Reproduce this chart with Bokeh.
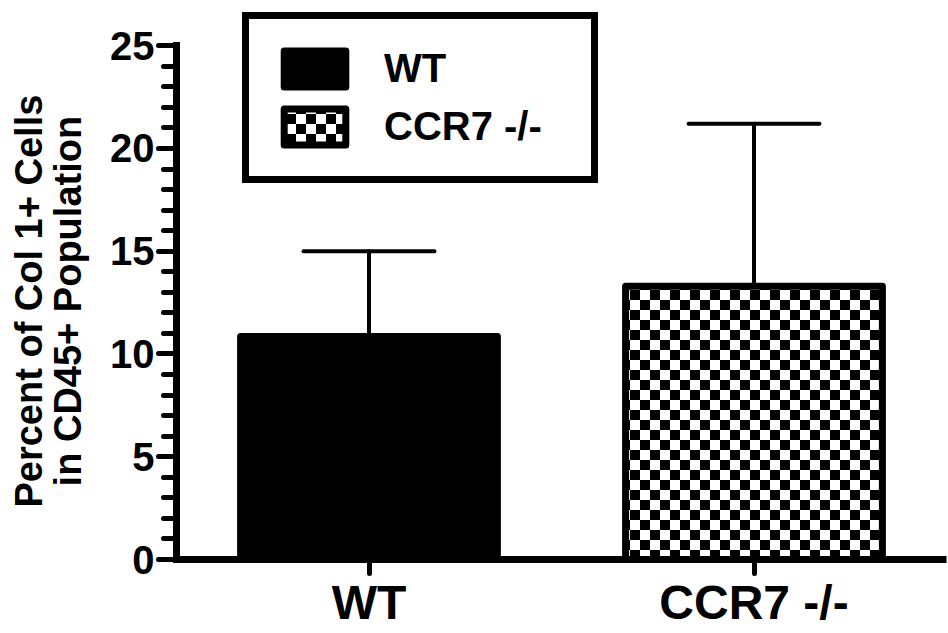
from bokeh.plotting import figure
from bokeh.models import (ColumnDataSource, Range1d, FixedTicker, SingleIntervalTicker,
                          CanvasTexture, Legend, LegendItem, CDSView, IndexFilter)
from bokeh.embed import file_html
from bokeh.resources import INLINE

# ---- data ----
groups = ["WT", "CCR7 -/-"]
means = [10.85, 13.3]
sems = [4.15, 7.9]
y_ticks = [0, 5, 10, 15, 20, 25]
y_label_lines = ["Percent of Col 1+ Cells", "in CD45+ Population"]

xs = [i + 0.5 for i in range(len(groups))]
uppers = [m + s for m, s in zip(means, sems)]
CAP = 0.17

src = ColumnDataSource(dict(x=xs, mean=means, upper=uppers, label=groups,
                            cl=[x - CAP for x in xs], cr=[x + CAP for x in xs]))

FONT = "Liberation Sans"

p = figure(width=948, height=633, output_backend="svg", toolbar_location=None,
           x_range=Range1d(0, 2), y_range=Range1d(0, 27.2),
           min_border_left=176, min_border_right=2, min_border_top=0, min_border_bottom=74)
p.outline_line_color = None
p.xgrid.visible = False
p.ygrid.visible = False

checker = CanvasTexture(code="""
var c = ctx.canvas;
c.width = 20; c.height = 20;
ctx.fillStyle = '#ffffff';
ctx.fillRect(0, 0, 20, 20);
ctx.fillStyle = '#000000';
ctx.fillRect(0, 0, 10, 10);
ctx.fillRect(10, 10, 10, 10);
""", repetition="repeat")

bar_kw = dict(x="x", top="mean", bottom=0, width=0.667, source=src,
              line_color="black", line_width=7, line_join="round")
wt = p.vbar(view=CDSView(filter=IndexFilter([0])), fill_color="black", **bar_kw)
ko = p.vbar(view=CDSView(filter=IndexFilter([1])), fill_color="white",
            hatch_pattern=dict(value="checker"), hatch_extra={"checker": checker},
            hatch_color="black", hatch_scale=20, **bar_kw)

p.segment(x0="x", y0="mean", x1="x", y1="upper", source=src,
          line_color="black", line_width=4, line_cap="round")
p.segment(x0="cl", y0="upper", x1="cr", y1="upper", source=src,
          line_color="black", line_width=4, line_cap="round")

# ---- axes ----
xa = p.xaxis[0]
xa.ticker = FixedTicker(ticks=xs, minor_ticks=[])
xa.major_label_overrides = {x: g for x, g in zip(xs, groups)}
xa.axis_line_width = 7
xa.major_tick_line_width = 5
xa.major_tick_in = 0
xa.major_tick_out = 14
xa.major_tick_line_cap = "round"
xa.major_label_standoff = 2
xa.major_label_text_font = FONT
xa.major_label_text_font_style = "bold"
xa.major_label_text_font_size = "48px"
xa.major_label_text_color = "black"

ya = p.yaxis[0]
ya.ticker = SingleIntervalTicker(interval=5, num_minor_ticks=5)
ya.bounds = (y_ticks[0], y_ticks[-1])
ya.axis_line_width = 7
ya.axis_line_cap = "square"
ya.major_tick_line_width = 5
ya.minor_tick_line_width = 5
ya.major_tick_line_cap = "round"
ya.minor_tick_line_cap = "round"
ya.major_tick_in = 0
ya.major_tick_out = 18
ya.minor_tick_in = 0
ya.minor_tick_out = 13
ya.major_label_standoff = 4
ya.major_label_text_font = FONT
ya.major_label_text_font_style = "bold"
ya.major_label_text_font_size = "40px"
ya.major_label_text_color = "black"
# trailing no-break spaces centre the label on the 0-25 axis line rather than the frame
ya.axis_label = "\n".join(line + "\u00a0" * 4 for line in y_label_lines)
ya.axis_label_text_font = FONT
ya.axis_label_text_font_style = "bold"
ya.axis_label_text_font_size = "38px"
ya.axis_label_text_line_height = 0.92
ya.axis_label_text_color = "black"
ya.axis_label_standoff = 18

# ---- legend ----
legend = Legend(items=[LegendItem(label=groups[0], renderers=[wt]),
                       LegendItem(label=groups[1], renderers=[ko])],
                location=(66, 376))
legend.border_line_color = "black"
legend.border_line_width = 7
legend.border_line_alpha = 1
legend.background_fill_alpha = 1
legend.padding = 27
legend.spacing = 13
legend.margin = 0
legend.glyph_width = 77
legend.glyph_height = 45
legend.label_standoff = 31
legend.label_width = 180
legend.label_text_font = FONT
legend.label_text_font_style = "bold"
legend.label_text_font_size = "40px"
legend.label_text_color = "black"
p.add_layout(legend)

open("out.html", "w").write(file_html(p, INLINE))
